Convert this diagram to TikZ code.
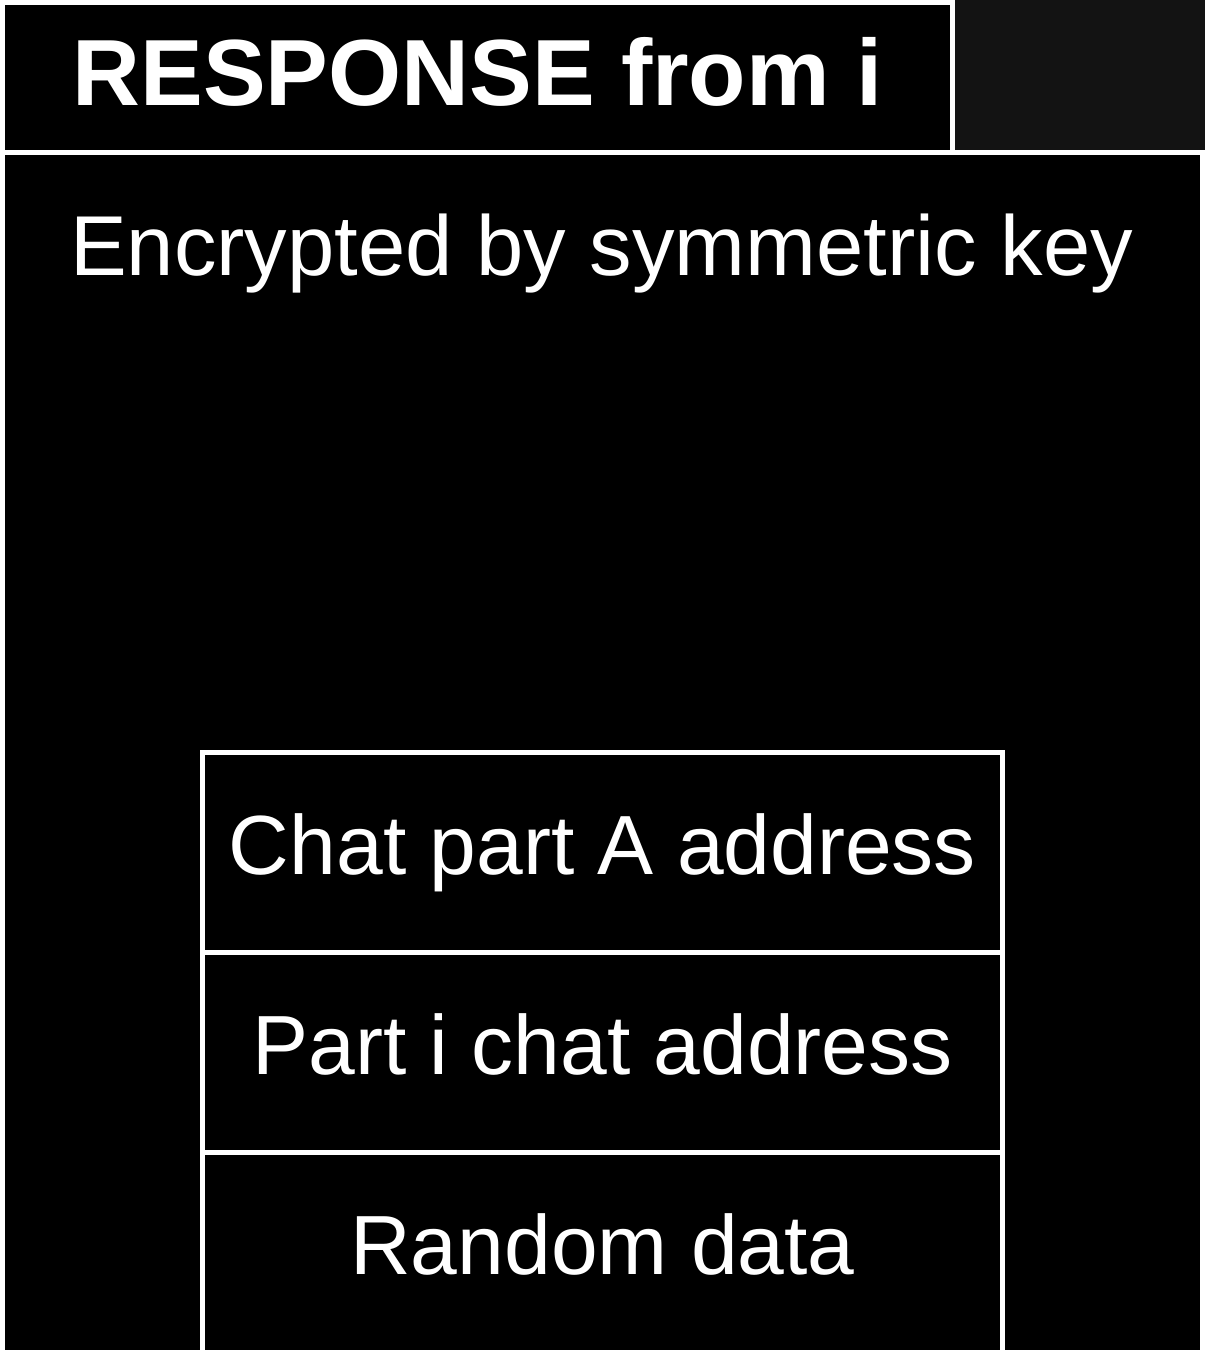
\documentclass[tikz,border=0pt]{standalone}
\usepackage{fontspec}
\setmainfont{Liberation Sans}
\usepackage{tikz}
\usetikzlibrary{positioning}
\definecolor{cornergray}{HTML}{131313}
\tikzset{
    blackbox/.style={
        rectangle, draw=white, fill=black,
        line width=5pt, inner sep=0pt, outer sep=0pt
    },
    headbox/.style={
        blackbox, minimum width=950pt, minimum height=150pt,
        text=white, font=\fontsize{94}{100}\selectfont\bfseries,
        text height=68pt, text depth=13pt
    },
    fieldbox/.style={
        blackbox, minimum width=800pt, minimum height=200pt,
        text=white, font=\fontsize{84}{90}\selectfont,
        text height=61pt, text depth=18pt
    }
}

\begin{document}
\begin{tikzpicture}[x=1pt, y=1pt]
    \useasboundingbox (0,0) rectangle (1205,-1355);
    \clip (0,0) rectangle (1205,-1355);
    \fill[white] (0,0) rectangle (1205,-1355);

    \node[headbox] (head) at (477.5,-77.5) {RESPONSE from i};
    \node[blackbox, fill=cornergray, minimum width=260pt, minimum height=160pt,
          anchor=south west] (corner) at (head.south east) {};
    \node[blackbox, minimum width=1200pt, minimum height=1200pt,
          anchor=north west] (body) at (head.south west) {};

    \node[text=white, font=\fontsize{85}{90}\selectfont, anchor=base]
        (enc) at (601.5,-275) {Encrypted by symmetric key};

    \node[fieldbox, anchor=north] (chat) at (602.5,-752.5) {Chat part A address};
    \node[fieldbox, below=0pt of chat] (part) {Part i chat address};
    \node[fieldbox, below=0pt of part] (rand) {Random data};
\end{tikzpicture}
\end{document}
